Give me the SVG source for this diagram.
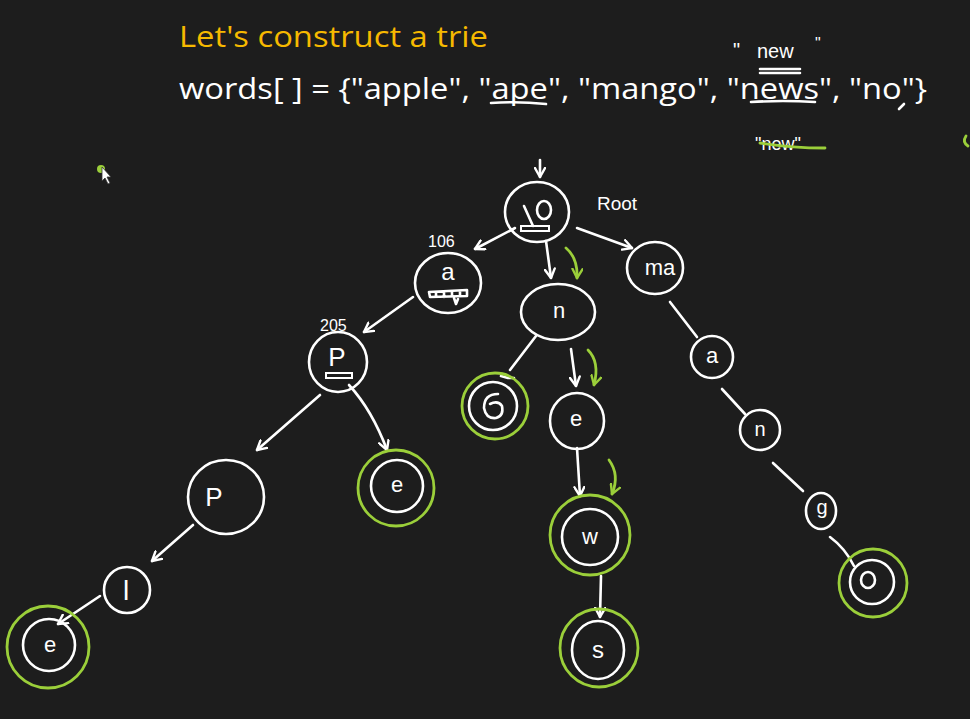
<svg xmlns="http://www.w3.org/2000/svg" width="970" height="719" viewBox="0 0 970 719">
<defs>
<marker id="ah" viewBox="0 0 12 12" refX="10" refY="6" markerWidth="12" markerHeight="12" markerUnits="userSpaceOnUse" orient="auto">
<path d="M1,1 L10,6 L1,11" fill="none" stroke="#ffffff" stroke-width="2.4" stroke-linecap="round" stroke-linejoin="round"/>
</marker>
<marker id="ahg" viewBox="0 0 12 12" refX="10" refY="6" markerWidth="12" markerHeight="12" markerUnits="userSpaceOnUse" orient="auto">
<path d="M1,1 L10,6 L1,11" fill="none" stroke="#9bcf3a" stroke-width="2.4" stroke-linecap="round" stroke-linejoin="round"/>
</marker>
</defs>
<style>
.w{fill:none;stroke:#ffffff;stroke-width:2.6;stroke-linecap:round;stroke-linejoin:round}
.g{fill:none;stroke:#9bcf3a;stroke-width:2.8;stroke-linecap:round;stroke-linejoin:round}
.lbl{font-family:"Liberation Sans",sans-serif;fill:#ffffff;text-anchor:middle}
.hd{font-family:"Liberation Sans",sans-serif;fill:#ffffff}
.t{font-family:"Open Sans","Noto Sans",sans-serif;font-size:30px}
</style>
<rect width="970" height="719" fill="#1d1d1d"/>

<g id="header">
<text class="t" x="179" y="47" fill="#f6b900" textLength="309" lengthAdjust="spacingAndGlyphs">Let's construct a trie</text>
<text class="t" x="179" y="99" fill="#ffffff" textLength="748" lengthAdjust="spacingAndGlyphs">words[ ] = {"apple", "ape", "mango", "news", "no"}</text>
<path class="w" d="M491,103 Q518,101 546,104"/>
<path class="w" d="M751,102 Q783,100 815,102"/>
<path class="w" d="M904,104 L899,109"/>
<text class="hd" x="733" y="57" font-size="20">"</text>
<text class="hd" x="757" y="58" font-size="20">new</text>
<text class="hd" x="815" y="49" font-size="16">"</text>
<path class="w" d="M760,69 L800,69 M760,73 L800,73"/>
<text class="hd" x="755" y="150" font-size="18">"new"</text>
<path class="g" d="M760,143 Q792,148 825,148"/>
<path class="g" d="M966,136 Q962,142 968,146"/>
<circle cx="101" cy="169" r="4" fill="#9bcf3a"/>
<path d="M102,167 L102,181 L105,178 L108,184 L110,183 L107,177 L111,177 Z" fill="#ffffff" stroke="#333" stroke-width="0.8"/>
</g>

<g id="connectors">
<line class="w" x1="540" y1="160" x2="540" y2="177" marker-end="url(#ah)"/>
<line class="w" x1="515" y1="228" x2="475" y2="249" marker-end="url(#ah)"/>
<line class="w" x1="546" y1="241" x2="551" y2="278" marker-end="url(#ah)"/>
<line class="w" x1="577" y1="228" x2="632" y2="248" marker-end="url(#ah)"/>
<path class="g" d="M566,248 Q578,258 577,278" marker-end="url(#ahg)"/>
<line class="w" x1="413" y1="297" x2="364" y2="332" marker-end="url(#ah)"/>
<line class="w" x1="536" y1="336" x2="510" y2="370"/>
<path class="w" d="M501,376 L508,378 L514,378"/>
<line class="w" x1="571" y1="349" x2="576" y2="386" marker-end="url(#ah)"/>
<path class="g" d="M588,350 Q600,362 594,385" marker-end="url(#ahg)"/>
<line class="w" x1="577" y1="448" x2="580" y2="496" marker-end="url(#ah)"/>
<path class="g" d="M609,460 Q620,475 612,494" marker-end="url(#ahg)"/>
<line class="w" x1="601" y1="576" x2="600" y2="617" marker-end="url(#ah)"/>
<line class="w" x1="320" y1="395" x2="257" y2="450" marker-end="url(#ah)"/>
<path class="w" d="M349,385 Q372,410 387,450" marker-end="url(#ah)"/>
<line class="w" x1="193" y1="525" x2="152" y2="561" marker-end="url(#ah)"/>
<line class="w" x1="100" y1="596" x2="58" y2="624" marker-end="url(#ah)"/>
<line class="w" x1="670" y1="302" x2="697" y2="337"/>
<line class="w" x1="722" y1="389" x2="745" y2="414"/>
<line class="w" x1="773" y1="463" x2="803" y2="491"/>
<path class="w" d="M830,537 Q845,548 854,566"/>
</g>

<g id="node-root">
<ellipse class="w" cx="537" cy="212" rx="32" ry="30"/>
<path class="w" d="M524,206 L533,226"/>
<ellipse class="w" cx="544" cy="210" rx="7" ry="9"/>
<rect x="521" y="226" width="28" height="5" fill="none" stroke="#fff" stroke-width="2"/>
<text class="hd" x="597" y="210" font-size="19">Root</text>
</g>

<g id="node-a">
<ellipse class="w" cx="448" cy="283" rx="33" ry="30"/>
<text class="lbl" x="448" y="280" font-size="24">a</text>
<path class="w" d="M429,292 L467,290 L467,296 L430,297 Z M436,292 L436,297 M444,292 L444,297 M452,291 L452,296 M460,291 L460,296"/>
<path class="w" d="M454,298 L456,304 L458,299"/>
<text class="hd" x="428" y="247" font-size="16">106</text>
</g>

<g id="node-n">
<ellipse class="w" cx="558" cy="312" rx="37" ry="28"/>
<text class="lbl" x="559" y="318" font-size="22">n</text>
</g>

<g id="node-m">
<ellipse class="w" cx="655" cy="268" rx="28" ry="26"/>
<text class="lbl" x="660" y="275" font-size="22">ma</text>
</g>

<g id="node-p">
<ellipse class="w" cx="338" cy="362" rx="29" ry="30"/>
<text class="lbl" x="337" y="366" font-size="26">P</text>
<rect x="326" y="373" width="26" height="5" fill="none" stroke="#fff" stroke-width="2"/>
<text class="hd" x="320" y="331" font-size="16">205</text>
</g>

<g id="node-o">
<circle class="g" cx="495" cy="406" r="33"/>
<circle class="w" cx="493" cy="406" r="24"/>
<path class="w" d="M498,394 Q484,394 484,408 Q486,419 496,418 Q504,416 502,406 Q498,400 490,404"/>
</g>

<g id="node-e1">
<ellipse class="w" cx="577" cy="421" rx="27" ry="28"/>
<text class="lbl" x="576" y="426" font-size="22">e</text>
</g>

<g id="node-a2">
<circle class="w" cx="712" cy="357" r="21"/>
<text class="lbl" x="712" y="363" font-size="22">a</text>
</g>

<g id="node-n2">
<circle class="w" cx="760" cy="430" r="20"/>
<text class="lbl" x="760" y="436" font-size="20">n</text>
</g>

<g id="node-g">
<ellipse class="w" cx="821" cy="511" rx="15" ry="18"/>
<text class="lbl" x="822" y="514" font-size="20">g</text>
</g>

<g id="node-o2">
<circle class="g" cx="873" cy="583" r="34"/>
<circle class="w" cx="872" cy="582" r="22"/>
<ellipse class="w" cx="868" cy="580" rx="7" ry="8"/>
</g>

<g id="node-e2">
<circle class="g" cx="396" cy="488" r="38"/>
<circle class="w" cx="397" cy="486" r="26"/>
<text class="lbl" x="397" y="492" font-size="22">e</text>
</g>

<g id="node-p2">
<ellipse class="w" cx="226" cy="497" rx="38" ry="37"/>
<text class="lbl" x="214" y="506" font-size="26">P</text>
</g>

<g id="node-l">
<circle class="w" cx="127" cy="590" r="23"/>
<text class="lbl" x="126" y="600" font-size="28">l</text>
</g>

<g id="node-e3">
<circle class="g" cx="48" cy="647" r="41"/>
<circle class="w" cx="49" cy="645" r="26"/>
<text class="lbl" x="50" y="652" font-size="22">e</text>
</g>

<g id="node-w">
<circle class="g" cx="590" cy="535" r="40"/>
<circle class="w" cx="590" cy="537" r="28"/>
<text class="lbl" x="590" y="544" font-size="22">w</text>
</g>

<g id="node-s">
<circle class="g" cx="599" cy="648" r="39"/>
<ellipse class="w" cx="598" cy="650" rx="26" ry="29"/>
<text class="lbl" x="598" y="658" font-size="24">s</text>
</g>
</svg>
